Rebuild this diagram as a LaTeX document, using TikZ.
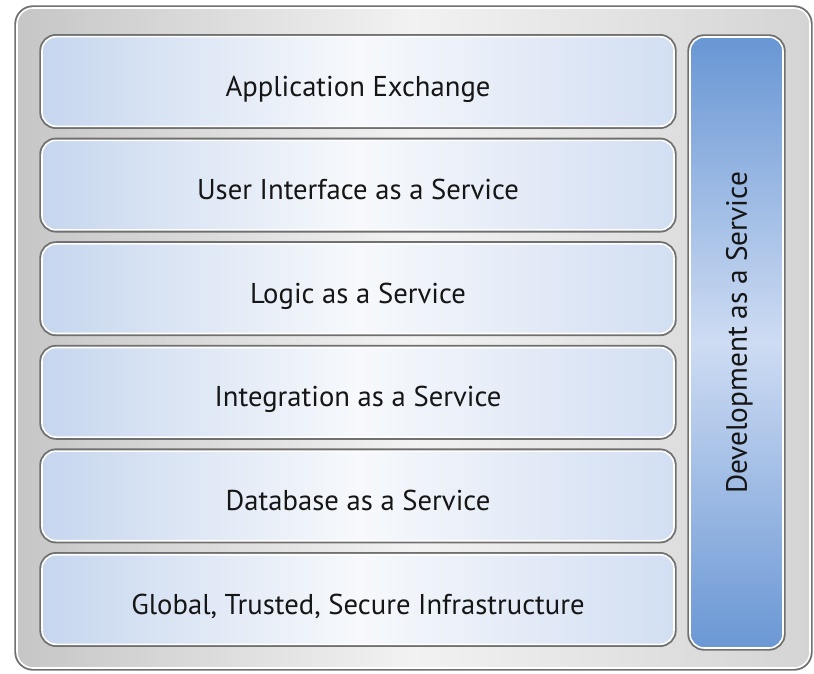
\documentclass[tikz,border=0pt]{standalone}
\usepackage{fontspec}
\setmainfont{PT Sans}
\usetikzlibrary{positioning}

\definecolor{rimgray}{RGB}{112,112,112}
\definecolor{frameleft}{RGB}{198,198,198}
\definecolor{framemid}{RGB}{242,242,242}
\definecolor{frameright}{RGB}{212,212,212}
\definecolor{layerleft}{RGB}{198,214,238}
\definecolor{layermid}{RGB}{247,249,252}
\definecolor{layerright}{RGB}{210,222,242}
\definecolor{devtop}{RGB}{104,150,212}
\definecolor{devmid}{RGB}{206,220,243}
\definecolor{devbottom}{RGB}{106,151,212}
\definecolor{inkgray}{RGB}{22,22,22}

\tikzset{
  rimmed/.style={draw=white, line width=1.2pt, outer sep=0pt,
    preaction={draw=rimgray, line width=4pt}},
  framebox/.style={rimmed, rounded corners=12pt,
    minimum width=594.75pt, minimum height=495pt,
    left color=frameleft, right color=frameright, middle color=framemid},
  layerbox/.style={rimmed, rounded corners=10.5pt,
    minimum width=474pt, minimum height=67.2pt,
    left color=layerleft, right color=layerright, middle color=layermid,
    text=inkgray, font=\fontsize{21.5}{25}\selectfont,
    text height=22pt, text depth=0pt},
  devbox/.style={rimmed, rounded corners=10.5pt,
    minimum width=69.75pt, minimum height=458.25pt,
    top color=devtop, bottom color=devbottom, middle color=devmid},
  devlabel/.style={rotate=90, inner sep=0pt, text=inkgray,
    font=\fontsize{22}{26}\selectfont, text height=15.4pt, text depth=0pt}
}

\begin{document}
\begin{tikzpicture}[x=0.75pt,y=0.75pt,yscale=-1,xscale=1]
\path[use as bounding box] (0,0) rectangle (814,674);

%Shape: Rounded Rect [id:frame]
\node (frame) [framebox] at (413.5,338) {};

%Shape: Rounded Rect [id:layers]
\node (appex) [layerbox] at (358,81.5) {Application Exchange};
\node (uiaas) [layerbox, below=10.5pt of appex] {User Interface as a Service};
\node (logic) [layerbox, below=10.5pt of uiaas] {Logic as a Service};
\node (integ) [layerbox, below=10.5pt of logic] {Integration as a Service};
\node (dbaas) [layerbox, below=10.5pt of integ] {Database as a Service};
\node (infra) [layerbox, below=10.5pt of dbaas] {Global, Trusted, Secure Infrastructure};

%Shape: Rounded Rect [id:dev]
\node (dev) [devbox] at (736.5,342.5) {};
% Text Node
\node (devtext) [devlabel] at (736.5,333) {Development as a Service};

\end{tikzpicture}
\end{document}
